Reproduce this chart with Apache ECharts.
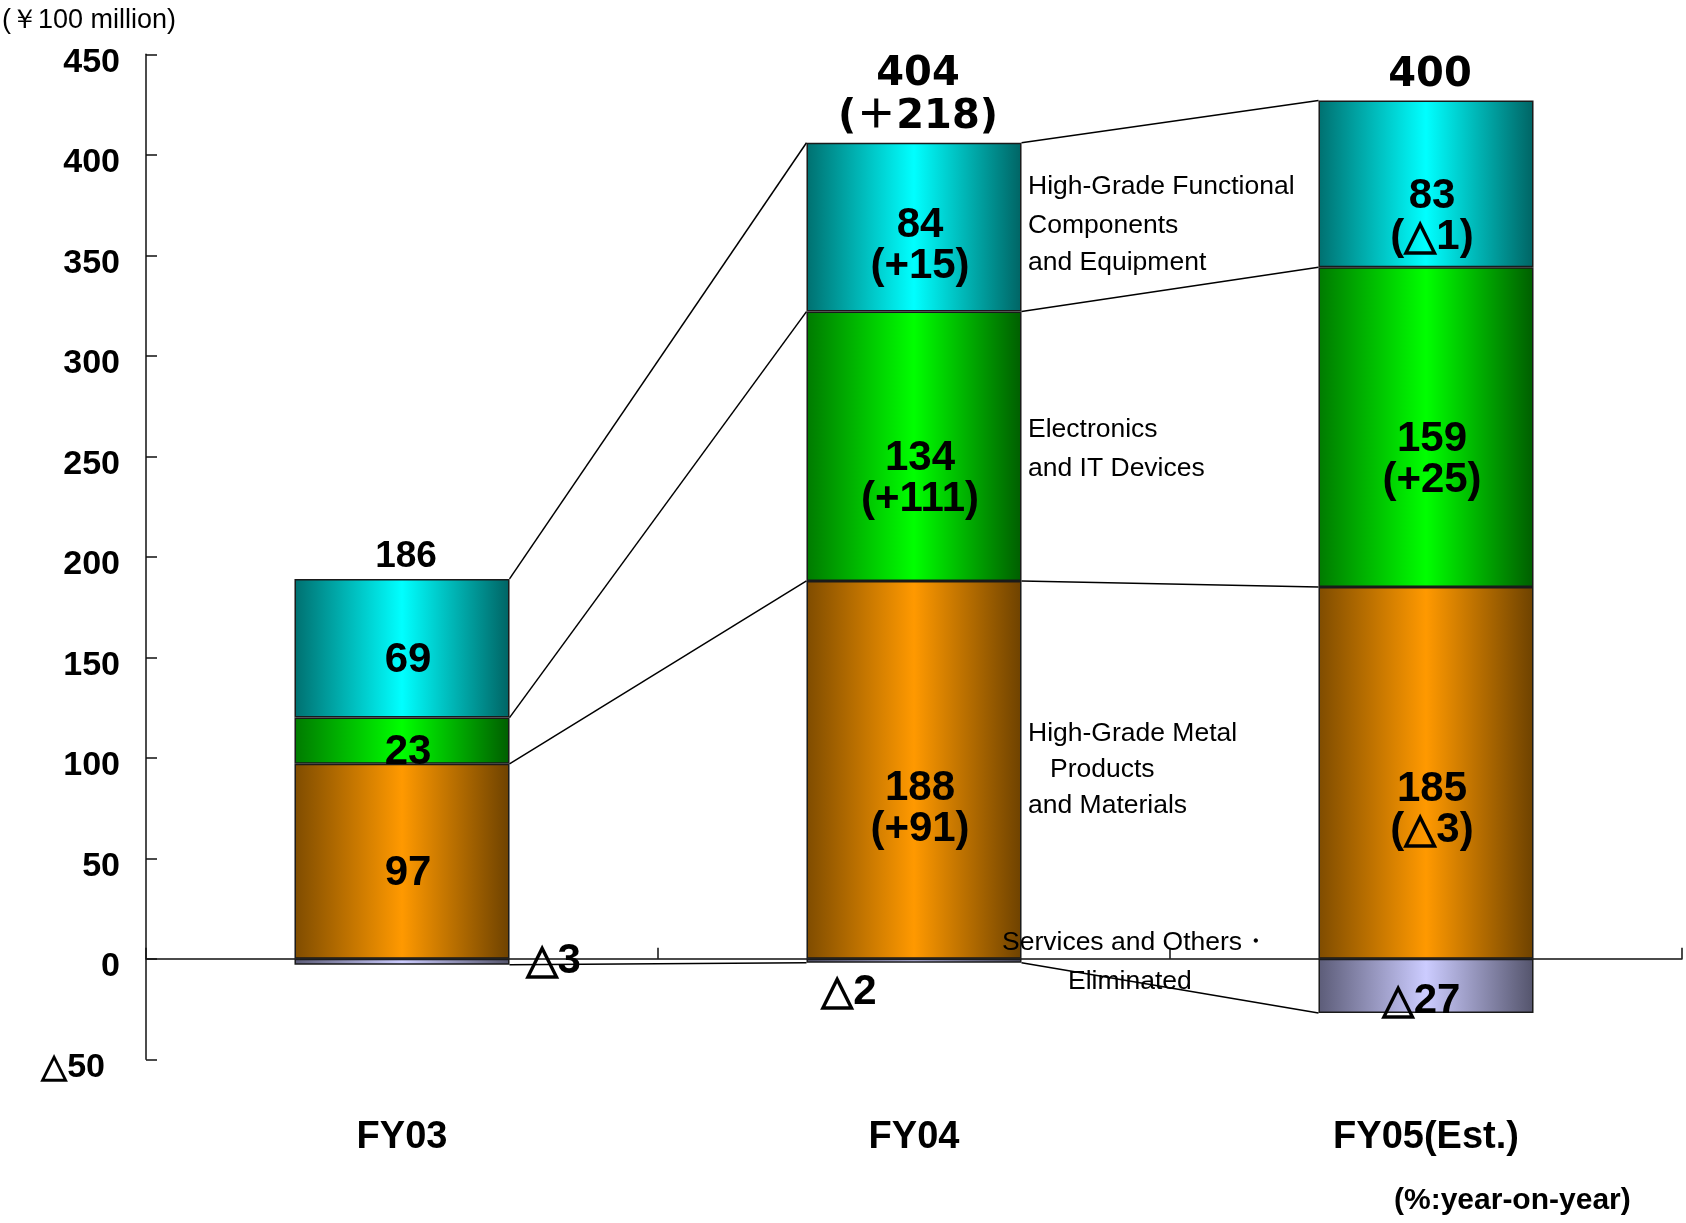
<!DOCTYPE html>
<html><head><meta charset="utf-8">
<script src="https://cdn.jsdelivr.net/npm/echarts@6/dist/echarts.min.js"></script>
<style>html,body{margin:0;padding:0;background:#fff}#c{width:1686px;height:1223px}</style>
</head><body><div id="c"></div>
<script>
// ---- data (¥100 million) ----
const categories = ['FY03', 'FY04', 'FY05(Est.)'];
const metal = [97, 188, 185];
const metalChange = [null, 91, -3];
const electronics = [23, 134, 159];
const electronicsChange = [null, 111, 25];
const functional = [69, 84, 83];
const functionalChange = [null, 15, -1];
const services = [-3, -2, -27];
const totals = [186, 404, 400];
const totalChange = [null, 218, null];
const yMin = -50, yMax = 450, yStep = 50;
const unitLabel = '(￥100 million)';
const noteLabel = '(%:year-on-year)';

// annotation texts with their pixel anchors (layout only)
const annotations = [
  ['High-Grade Functional', 1028, 187],
  ['Components', 1028, 226],
  ['and Equipment', 1028, 263],
  ['Electronics', 1028, 430],
  ['and IT Devices', 1028, 469],
  ['High-Grade Metal', 1028, 734],
  ['Products', 1050, 770],
  ['and Materials', 1028, 806],
  ['Services and Others・', 1002, 943],
  ['Eliminated', 1068, 982]
];

// ---- style ----
const NUM = '"Liberation Sans", Arial, sans-serif';
const WIDE = '"DejaVu Sans", "Noto Sans CJK JP", sans-serif';
const BAR_W = 0.42;

function tri(v) { return v < 0 ? '△' + Math.abs(v) : String(v); }
function changeText(c) { return c > 0 ? '(+' + c + ')' : '(△' + Math.abs(c) + ')'; }
function grad(dark, bright, darker) {
  return new echarts.graphic.LinearGradient(0, 0, 1, 0, [
    {offset: 0, color: dark}, {offset: 0.5, color: bright}, {offset: 1, color: darker}]);
}
const labelBase = {fontFamily: NUM, fontWeight: 'bold', fontSize: 42, lineHeight: 41, color: '#000'};

function segSeries(name, values, changes, colors, nudge) {
  return {
    name, type: 'bar', stack: 'total', barWidth: (BAR_W * 100) + '%',
    itemStyle: {color: grad(...colors), borderColor: '#1a1a1a', borderWidth: 1.5},
    label: Object.assign({show: true, position: 'inside'}, labelBase),
    data: values.map((v, i) => ({
      value: v,
      label: {
        offset: [6, 12 + (changes[i] != null ? 21 : 0) + nudge[i]],
        formatter: changes[i] != null ? tri(v) + '\n' + changeText(changes[i]) : tri(v)
      }
    }))
  };
}

const negLabelPlace = [
  {position: 'right', offset: [11, 0]},
  {position: 'bottom', offset: [-65, 4]},
  {position: 'inside', offset: [-5, 15]}
];

const levels = categories.map((_, i) => {
  const m = metal[i], e = m + electronics[i], f = e + functional[i];
  return [m, e, f, services[i]];
});

const chart = echarts.init(document.getElementById('c'), null, {renderer: 'canvas'});
chart.setOption({
  animation: false,
  backgroundColor: '#fff',
  grid: {left: 146, right: 4, top: 54.3, bottom: 163.7, containLabel: false, outerBoundsMode: 'none'},
  xAxis: [
    {
      type: 'category', data: categories, position: 'bottom',
      axisLine: {onZero: true, lineStyle: {color: '#111', width: 1.5}},
      axisTick: {show: true, inside: true, length: 11, lineStyle: {color: '#111', width: 1.5}},
      axisLabel: {show: false}, splitLine: {show: false}
    },
    {
      type: 'category', data: categories, position: 'bottom',
      axisLine: {show: false, onZero: false}, axisTick: {show: false}, splitLine: {show: false},
      axisLabel: {show: true, margin: 59, fontFamily: NUM, fontWeight: 'bold', fontSize: 38, color: '#000'}
    }
  ],
  yAxis: {
    type: 'value', min: yMin, max: yMax, interval: yStep,
    axisLine: {show: true, lineStyle: {color: '#111', width: 1.5}},
    axisTick: {show: true, inside: true, length: 11, lineStyle: {color: '#111', width: 1.5}},
    splitLine: {show: false},
    axisLabel: {
      margin: 26, padding: [16, 0, 0, 0], fontFamily: NUM, fontWeight: 'bold', fontSize: 34, color: '#000',
      formatter: v => v < 0 ? '{neg|△' + (-v) + '}' : String(v),
      rich: {neg: {padding: [0, 15, 0, 0], fontFamily: NUM, fontWeight: 'bold', fontSize: 34, color: '#000'}}
    }
  },
  series: [
    segSeries('metal', metal, metalChange, ['#7f4c00', '#ff9900', '#6e4200'], [0, 6, 4]),
    segSeries('electronics', electronics, electronicsChange, ['#007a00', '#00ff00', '#005e00'], [0, 0, 0]),
    segSeries('functional', functional, functionalChange, ['#007070', '#00ffff', '#006464'], [0, -14, 0]),
    {
      name: 'services', type: 'bar', stack: 'total', barWidth: (BAR_W * 100) + '%',
      itemStyle: {color: grad('#5c5c78', '#ccccff', '#54546c'), borderColor: '#1a1a1a', borderWidth: 1.5},
      label: Object.assign({show: true}, labelBase),
      data: services.map((v, i) => ({
        value: v,
        label: Object.assign({formatter: tri(v)}, negLabelPlace[i])
      }))
    },
    {
      type: 'custom', name: 'connectors', silent: true, z: 5,
      data: categories.slice(0, -1).map((_, i) => [i, 0]),
      encode: {x: 0, y: 1},
      renderItem(params, api) {
        const i = api.value(0);
        const bw = api.size([1, 0])[0] * BAR_W;
        return {
          type: 'group',
          children: levels[i].map((v, k) => {
            const p1 = api.coord([i, v]);
            const p2 = api.coord([i + 1, levels[i + 1][k]]);
            return {type: 'line', shape: {x1: p1[0] + bw / 2, y1: p1[1], x2: p2[0] - bw / 2, y2: p2[1]},
              style: {stroke: '#000', lineWidth: 1.5}};
          })
        };
      }
    },
    {
      type: 'custom', name: 'totals', silent: true, z: 6,
      data: totals.map((t, i) => [i, levels[i][2]]),
      encode: {x: 0, y: 1},
      renderItem(params, api) {
        const i = params.dataIndex;
        const p = api.coord([api.value(0), api.value(1)]);
        const lines = [String(totals[i])];
        if (totalChange[i] != null) lines.push('(＋' + totalChange[i] + ')');
        const wide = i > 0;
        return {
          type: 'group',
          children: lines.map((t, k) => ({
            type: 'text',
            style: {
              text: t, x: p[0] + 4, y: p[1] - (wide ? 25 : 22) - (lines.length - 1 - k) * 43,
              align: 'center', verticalAlign: 'middle', fill: '#000',
              fontFamily: wide ? WIDE : NUM, fontWeight: 'bold', fontSize: wide ? 40 : 37
            }
          }))
        };
      }
    }
  ],
  graphic: [
    {type: 'text', x: 2, y: 21, z: 100, style: {text: unitLabel, fontFamily: NUM, fontSize: 27, fill: '#000', verticalAlign: 'middle'}},
    {type: 'text', x: 1394, y: 1201, z: 100, style: {text: noteLabel, fontFamily: NUM, fontWeight: 'bold', fontSize: 30, fill: '#000', verticalAlign: 'middle'}}
  ].concat(annotations.map(([t, x, y]) => ({
    type: 'text', x, y, z: 100,
    style: {text: t, fontFamily: NUM, fontSize: 26.5, fill: '#000', verticalAlign: 'middle'}
  })))
});
</script></body></html>
